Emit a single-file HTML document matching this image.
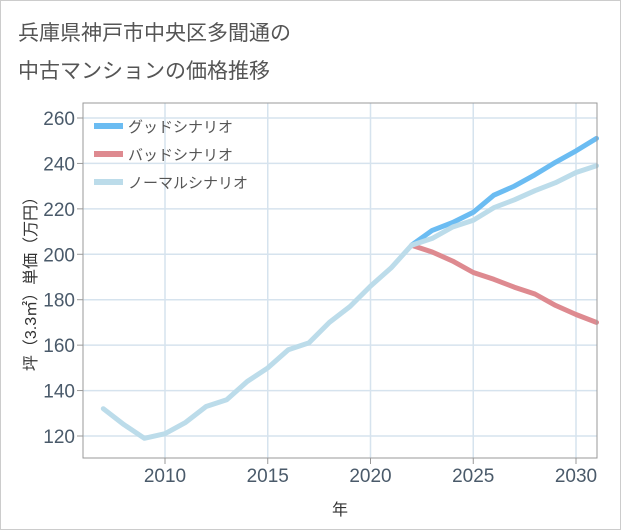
<!DOCTYPE html>
<html><head><meta charset="utf-8"><style>
body{margin:0;background:#fff;}
#wrap{position:relative;width:621px;height:530px;background:#fff;font-family:"Liberation Sans","Noto Sans CJK JP",sans-serif;}
</style></head><body>
<div id="wrap">
<svg id="svg" width="621" height="530" style="position:absolute;left:0;top:0">
<rect x="0.5" y="0.5" width="620" height="529" fill="#fff" stroke="#ccc"/>
<text x="18" y="40" font-size="21" fill="#555" font-family="Liberation Sans,Noto Sans CJK JP,sans-serif">兵庫県神戸市中央区多聞通の</text>
<text x="18" y="78" font-size="21" fill="#555" font-family="Liberation Sans,Noto Sans CJK JP,sans-serif">中古マンションの価格推移</text>
<g id="grid"></g><g id="series"></g><g id="axes"></g>
<text x="340" y="515" font-size="16" fill="#333" text-anchor="middle" font-family="Liberation Sans,Noto Sans CJK JP,sans-serif">年</text>
<text transform="translate(36,280) rotate(-90)" font-size="16" fill="#333" text-anchor="middle" font-family="Liberation Sans,Noto Sans CJK JP,sans-serif">坪（3.3㎡）単価（万円）</text>
<g id="legend"></g>
</svg>
</div>
<script>
const years=[2007,2008,2009,2010,2011,2012,2013,2014,2015,2016,2017,2018,2019,2020,2021,2022,2023,2024,2025,2026,2027,2028,2029,2030,2031];
const normalVals=[132,125,119,121,126,133,136,144,150,158,161,170,177,186,194,204,207,212,215,220.5,224,228,231.5,236,239];
const futureYears=[2022,2023,2024,2025,2026,2027,2028,2029,2030,2031];
const goodVals=[204,210.5,214,218.5,226,230,235,240.5,245.5,251];
const badVals=[204,201,197,192,189,185.5,182.5,177.5,173.5,170];
const yTicks=[120,140,160,180,200,220,240,260];
const xTicks=[2010,2015,2020,2025,2030];
const L=83,R=597,T=103,B=458;
const X=v=>165+(v-2010)*20.55;
const Y=v=>436-(v-120)*(318/140);
const ns='http://www.w3.org/2000/svg';
function mk(tag,attrs,parent){const e=document.createElementNS(ns,tag);for(const k in attrs)e.setAttribute(k,attrs[k]);document.getElementById(parent).appendChild(e);return e;}
yTicks.forEach(t=>{const g=mk('line',{x1:L,x2:R,y1:Y(t),y2:Y(t),stroke:'#d6e3ee','stroke-width':1.5},'grid');

const tk=mk('line',{x1:L-6,x2:L,y1:Y(t),y2:Y(t),stroke:'#999'},'axes');
const tx=mk('text',{x:L-8,y:Y(t)+7,'font-size':19,fill:'#4a5a6a','text-anchor':'end'},'axes');tx.textContent=t;
});
xTicks.forEach(t=>{const g=mk('line',{x1:X(t),x2:X(t),y1:T,y2:B,stroke:'#d6e3ee','stroke-width':1.5},'grid');

mk('line',{x1:X(t),x2:X(t),y1:B,y2:B+6,stroke:'#999'},'axes');
const tx=mk('text',{x:X(t),y:B+24,'font-size':19,fill:'#4a5a6a','text-anchor':'middle'},'axes');tx.textContent=t;
});
const fr=mk('rect',{x:L,y:T,width:R-L,height:B-T,fill:'none',stroke:'#999'},'axes');

function line(xs,vs,color,name){const d=xs.map((x,i)=>(i?'L':'M')+X(x).toFixed(1)+','+Y(vs[i]).toFixed(1)).join('');
const p=mk('path',{d:d,fill:'none',stroke:color,'stroke-width':5,'stroke-linejoin':'round','stroke-linecap':'round'},'series');
}
line(futureYears,badVals,'#de8a90','bad-scenario-line');
line(futureYears,goodVals,'#6bbcf2','good-scenario-line');
line(years,normalVals,'#bcdcea','normal-scenario-line');
[['グッドシナリオ','#6bbcf2'],['バッドシナリオ','#de8a90'],['ノーマルシナリオ','#bcdcea']].forEach((e,i)=>{const y=126+i*28;
const l=mk('line',{x1:94,x2:123,y1:y,y2:y,stroke:e[1],'stroke-width':6},'legend');

const t=mk('text',{x:128,y:y+6,'font-size':15,fill:'#555'},'legend');t.textContent=e[0];
});
</script>
</body></html>
